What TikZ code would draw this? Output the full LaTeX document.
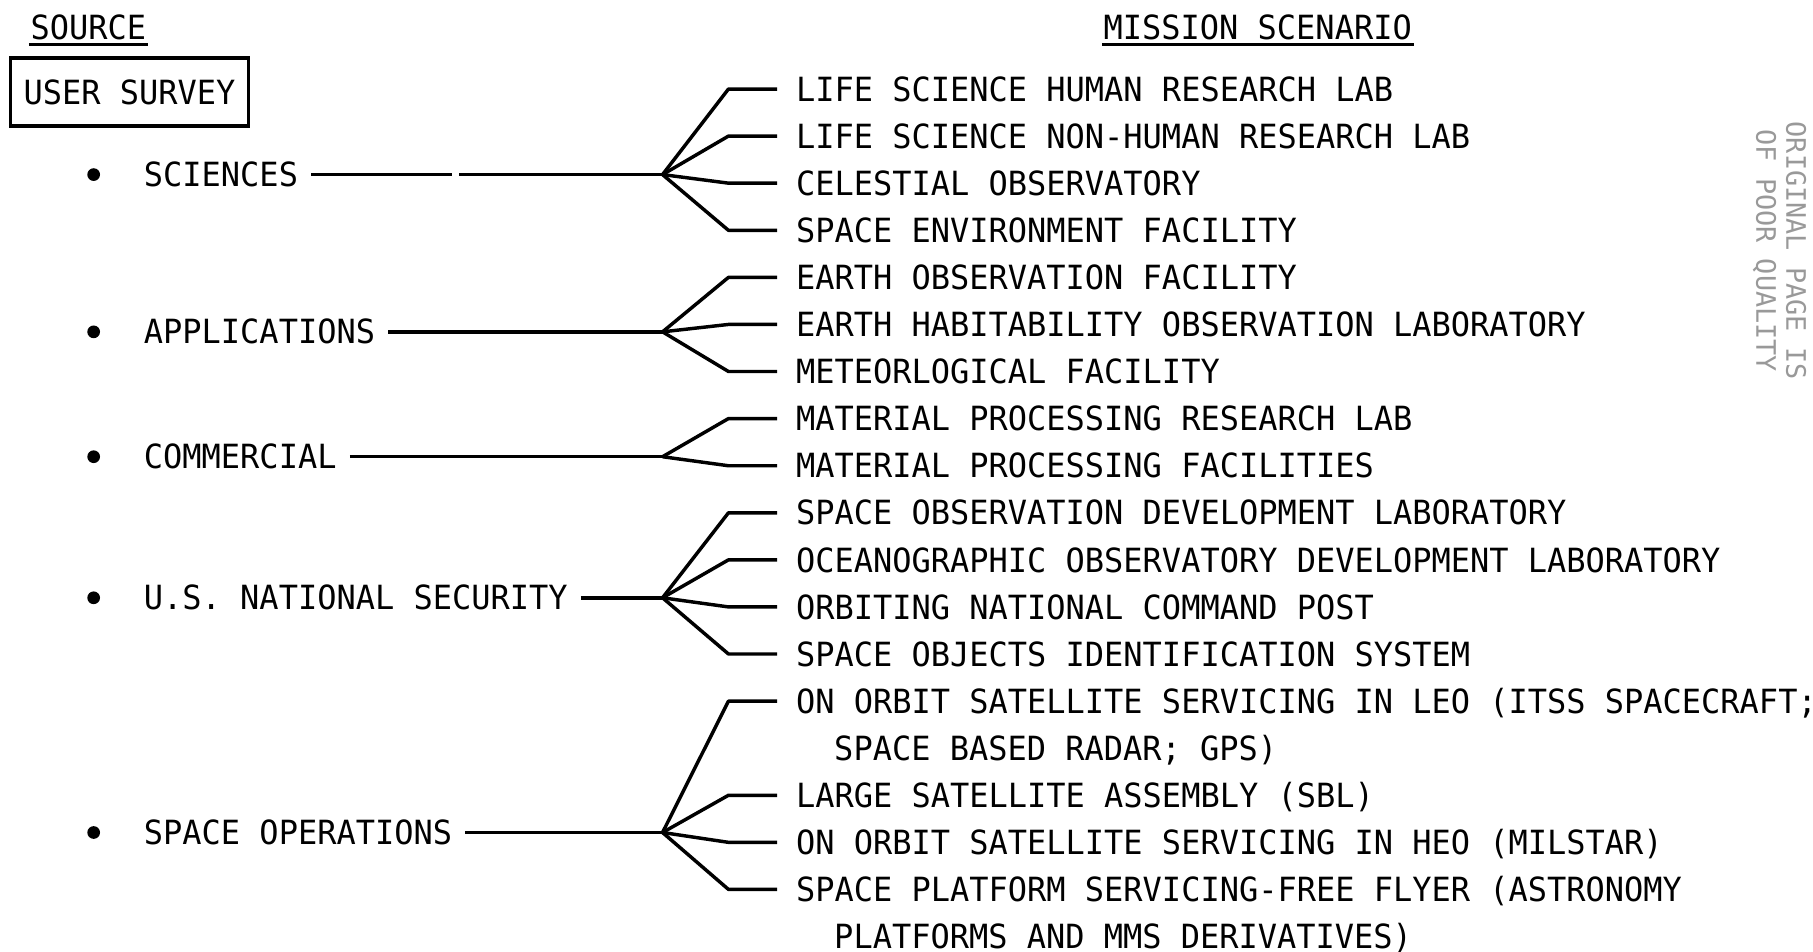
\documentclass[tikz,border=0pt]{standalone}
\usepackage{fontspec}
\newfontfamily\typefont[FakeStretch=0.96]{DejaVu Sans Mono}
\newfontfamily\stampfont{DejaVu Sans Mono}
\usetikzlibrary{positioning}

\begin{document}
\begin{tikzpicture}[
    line width=0.85pt,
    txt/.style={font=\typefont\fontsize{8.2}{9.8}\selectfont, inner xsep=1mm, inner ysep=0pt, text height=2.1mm, text depth=0pt},
    src/.style={txt, anchor=west},
    item/.style={txt, anchor=west, inner xsep=1.5mm},
    head/.style={txt, anchor=base west, inner xsep=0pt},
    dot/.style={circle, fill, inner sep=0pt, minimum size=1.1mm}
  ]
  \useasboundingbox (0,0) rectangle (15.68,-8.23);

  % headings
  \node[head] (hsrc) at (0.25,-0.345) {SOURCE};
  \node[head] (hmis) at (9.53,-0.345) {MISSION SCENARIO};
  \draw[line width=0.7pt] ([yshift=-0.4mm]hsrc.base west) -- ([yshift=-0.4mm]hsrc.base east);
  \draw[line width=0.7pt] ([yshift=-0.4mm]hmis.base west) -- ([yshift=-0.4mm]hmis.base east);

  \node[txt, draw, minimum width=2.06cm, minimum height=0.59cm] (survey) at (1.12,-0.795) {USER SURVEY};

  % sources
  \node[src] (sci) at (1.13,-1.51) {SCIENCES};
  \node[src] (app) at (1.13,-2.87) {APPLICATIONS};
  \node[src] (com) at (1.13,-3.95) {COMMERCIAL};
  \node[src] (sec) at (1.13,-5.17) {U.S. NATIONAL SECURITY};
  \node[src] (ops) at (1.13,-7.20) {SPACE OPERATIONS};
  \node[dot, left=2.5mm of sci.west] (dsci) {};
  \node[dot, left=2.5mm of app.west] (dapp) {};
  \node[dot, left=2.5mm of com.west] (dcom) {};
  \node[dot, left=2.5mm of sec.west] (dsec) {};
  \node[dot, left=2.5mm of ops.west] (dops) {};

  % forks
  \coordinate (fsci) at (5.73,-1.51);
  \coordinate (fapp) at (5.73,-2.87);
  \coordinate (fcom) at (5.73,-3.95);
  \coordinate (fsec) at (5.73,-5.17);
  \coordinate (fops) at (5.73,-7.20);

  % mission scenarios
  \node[item] (m1) at (6.72,-0.770) {LIFE SCIENCE HUMAN RESEARCH LAB};
  \node[item] (m2) at (6.72,-1.177) {LIFE SCIENCE NON-HUMAN RESEARCH LAB};
  \node[item] (m3) at (6.72,-1.584) {CELESTIAL OBSERVATORY};
  \node[item] (m4) at (6.72,-1.992) {SPACE ENVIRONMENT FACILITY};
  \node[item] (m5) at (6.72,-2.399) {EARTH OBSERVATION FACILITY};
  \node[item] (m6) at (6.72,-2.806) {EARTH HABITABILITY OBSERVATION LABORATORY};
  \node[item] (m7) at (6.72,-3.213) {METEORLOGICAL FACILITY};
  \node[item] (m8) at (6.72,-3.620) {MATERIAL PROCESSING RESEARCH LAB};
  \node[item] (m9) at (6.72,-4.028) {MATERIAL PROCESSING FACILITIES};
  \node[item] (m10) at (6.72,-4.435) {SPACE OBSERVATION DEVELOPMENT LABORATORY};
  \node[item] (m11) at (6.72,-4.842) {OCEANOGRAPHIC OBSERVATORY DEVELOPMENT LABORATORY};
  \node[item] (m12) at (6.72,-5.249) {ORBITING NATIONAL COMMAND POST};
  \node[item] (m13) at (6.72,-5.656) {SPACE OBJECTS IDENTIFICATION SYSTEM};
  \node[item] (m14) at (6.72,-6.064) {ON ORBIT SATELLITE SERVICING IN LEO (ITSS SPACECRAFT;};
  \node[item] (m14b) at (7.05,-6.471) {SPACE BASED RADAR; GPS)};
  \node[item] (m15) at (6.72,-6.878) {LARGE SATELLITE ASSEMBLY (SBL)};
  \node[item] (m16) at (6.72,-7.285) {ON ORBIT SATELLITE SERVICING IN HEO (MILSTAR)};
  \node[item] (m17) at (6.72,-7.692) {SPACE PLATFORM SERVICING-FREE FLYER (ASTRONOMY};
  \node[item] (m17b) at (7.05,-8.100) {PLATFORMS AND MMS DERIVATIVES)};

  % source lines
  \draw (sci.east) -- ++(1.22,0) ++(0.06,0) -- (fsci);
  \draw (app.east) -- (fapp);
  \draw (com.east) -- (fcom);
  \draw (sec.east) -- (fsec);
  \draw (ops.east) -- (fops);

  % branches
  \foreach \f/\m in {fsci/m1, fsci/m2, fsci/m3, fsci/m4, fapp/m5, fapp/m6, fapp/m7,
      fcom/m8, fcom/m9, fsec/m10, fsec/m11, fsec/m12, fsec/m13,
      fops/m14, fops/m15, fops/m16, fops/m17}
    \draw[line join=round] (\f) -- ([xshift=-4.2mm]\m.west) -- (\m.west);

  % stamp
  \node[font=\stampfont\fontsize{6.6}{7.4}\selectfont, text=black!40, rotate=-90, align=center, inner sep=0pt] (stamp) at (15.39,-2.17) {ORIGINAL PAGE IS\\OF POOR QUALITY};
\end{tikzpicture}
\end{document}
